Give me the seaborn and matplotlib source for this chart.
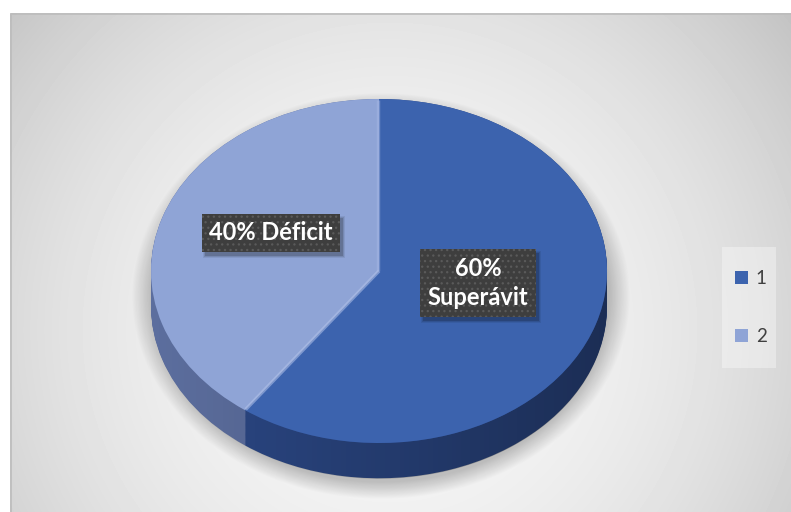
import numpy as np
import matplotlib
matplotlib.use("Agg")
import matplotlib.pyplot as plt
import seaborn as sns
from matplotlib.patches import Rectangle, PathPatch
from matplotlib.path import Path
from matplotlib.transforms import IdentityTransform

# ---- data -------------------------------------------------------------
categories = ["1", "2"]
shares = [60, 40]
label_names = ["Superávit", "Déficit"]
label_joins = ["\n", " "]

# ---- style ------------------------------------------------------------
sns.set_theme(style="white")
plt.rcParams["font.family"] = ["Lato", "DejaVu Sans"]
plt.rcParams["hatch.linewidth"] = 0.9

top_colors = sns.color_palette(["#3c63ae", "#8fa4d6"])
side_colors = sns.color_palette(["#2b4784", "#5c6e9e"])

W, H = 791, 512
fig = plt.figure(figsize=(W / 100, H / 100), dpi=100)
fig.patch.set_facecolor("white")

# ---- background panel with radial gradient and soft pie shadow ---------
bg = fig.add_axes([0, 0, 1, 1])
yy, xx = np.mgrid[13:H, 10:W] + 0.5
dist = np.hypot(xx - 390, yy - 330) / 495
shade = np.clip(247 - 49 * dist ** 2, 0, 255) / 255
bg.imshow(shade, cmap="gray", vmin=0, vmax=1, extent=[10, W, H, 13],
          interpolation="bilinear", zorder=0)

r = np.hypot((xx - 381) / 233, (yy - 296) / 190)
shadow = np.zeros(r.shape + (4,))
shadow[..., 3] = 0.22 * np.clip((1.07 - r) / 0.09, 0, 1)
bg.imshow(shadow, extent=[10, W, H, 13], interpolation="bilinear", zorder=0.5)

bg.add_patch(Rectangle((10.5, 13.5), W, H, facecolor="none",
                       edgecolor="#bcbcbc", lw=1.2, zorder=1))
# legend panel
bg.add_patch(Rectangle((722, 247), 54, 121, facecolor="white", alpha=0.35,
                       edgecolor="none", zorder=1))
bg.set_xlim(0, W)
bg.set_ylim(H, 0)
bg.set_aspect("auto")
bg.axis("off")

# ---- pie axes (ellipse: 228 px wide radius, 172 px tall radius) ---------
cx, cy = 379, H - 271
rx, ry = 228, 172
xl, yl = 1.5, 1.35
ax = fig.add_axes([(cx - xl * rx) / W, (cy - yl * ry) / H,
                   2 * xl * rx / W, 2 * yl * ry / H])

depth = 0.205
for off in np.linspace(depth, 0, 40):
    ax.pie(shares, colors=side_colors, startangle=90, counterclock=False,
           center=(0, -off), radius=1,
           wedgeprops=dict(linewidth=0, antialiased=True, zorder=1))

# darkening of the side wall towards the right
t = np.linspace(np.pi, 2 * np.pi, 300)
upper = np.column_stack([np.cos(t), np.sin(t)])
lower = np.column_stack([np.cos(t[::-1]), np.sin(t[::-1]) - depth - 0.003])
verts = np.vstack([upper, lower, upper[:1]])
codes = [Path.MOVETO] + [Path.LINETO] * (len(verts) - 2) + [Path.CLOSEPOLY]
side_patch = PathPatch(Path(verts, codes), transform=ax.transData,
                       facecolor="none", edgecolor="none")
ax.add_patch(side_patch)
grad = np.linspace(0, 1, 256)
overlay = np.zeros((1, 256, 4))
overlay[0, :, 3] = 0.36 * grad ** 1.1
im = ax.imshow(overlay, extent=[-1, 1, -1 - depth - 0.01, 0], aspect="auto",
               interpolation="bilinear", zorder=1.5)
im.set_clip_path(side_patch)

wedges, _ = ax.pie(shares, colors=top_colors, startangle=90,
                   counterclock=False, radius=1,
                   wedgeprops=dict(linewidth=0, antialiased=True, zorder=3))

# faint bevel highlight along both edges of the second slice
split = np.deg2rad(90 - 360 * shares[0] / sum(shares))
ax.plot([0, np.cos(split) * 0.995], [0, np.sin(split) * 0.995],
        color="#b3c3ea", lw=2.5, alpha=0.55, zorder=3.5,
        solid_capstyle="butt")
ax.plot([-0.006, -0.006], [0, 0.995], color="#a9bae6", lw=2.5, alpha=0.45,
        zorder=3.5, solid_capstyle="butt")

ax.set_xlim(-xl, xl)
ax.set_ylim(-yl, yl)
ax.set_aspect("auto")
ax.axis("off")

# ---- data labels ------------------------------------------------------
label_pos = [(0.434, -0.07), (-0.474, 0.221)]
label_texts = []
for val, name, join, (lx, ly) in zip(shares, label_names, label_joins, label_pos):
    txt = ax.text(lx, ly, f"{val}%{join}{name}", color="white", zorder=5,
                  ha="center", va="center", fontsize=17, fontweight="bold",
                  linespacing=1.35, multialignment="center",
                  bbox=dict(boxstyle="square,pad=0.32", facecolor="#3e3e3e",
                            edgecolor="#5a5a5a", linewidth=0, hatch="..."))
    label_texts.append(txt)

# drop shadows behind the label boxes (display coordinates)
fig.canvas.draw()
for txt in label_texts:
    box = txt.get_bbox_patch().get_window_extent()
    for grow, alpha in [(2.0, 0.07), (1.0, 0.10), (0.0, 0.16)]:
        ax.add_patch(Rectangle((box.x0 + 3 - grow, box.y0 - 4 - grow),
                               box.width + 2 * grow, box.height + 2 * grow,
                               transform=IdentityTransform(),
                               facecolor=(0, 0, 0, alpha), edgecolor="none",
                               zorder=4))

# ---- legend -----------------------------------------------------------
handles = [Rectangle((0, 0), 1, 1, facecolor=c, edgecolor="none") for c in top_colors]
fig.legend(handles, categories, loc="center left",
           bbox_to_anchor=(735 / W, 1 - 307.5 / H), frameon=False,
           fontsize=13.5, labelcolor="#404040", handlelength=0.7,
           handleheight=0.7, handletextpad=0.4, labelspacing=2.2,
           borderpad=0, borderaxespad=0)

fig.savefig("out.png", dpi=100, facecolor="white")
